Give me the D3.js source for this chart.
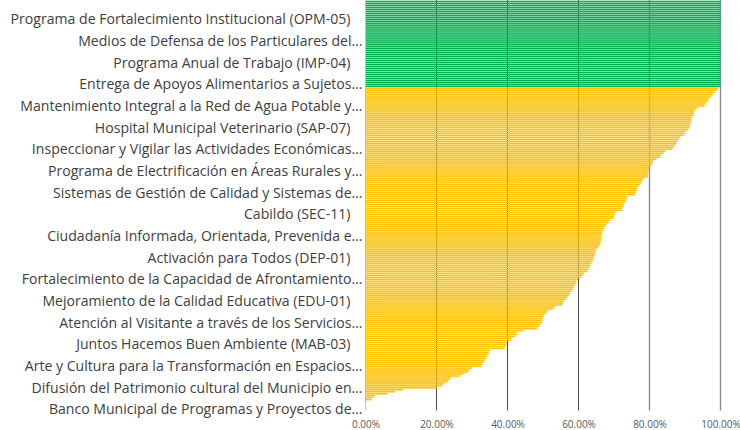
<!DOCTYPE html>
<html>
<head>
<meta charset="utf-8">
<script src="https://cdn.jsdelivr.net/npm/d3@7"></script>
<style>
  html, body { margin: 0; padding: 0; background: #ffffff; }
  svg { display: block; }
</style>
</head>
<body>
<svg id="chart" width="740" height="430"></svg>
<script>
// Completion share of each program, top bar first (0-100 %)
const values = [
  100,100,100,100,100,100,100,100,100,100,
  100,100,100,100,100,100,100,100,100,100,
  100,100,100,100,100,100,100,100,100,100,
  100,100,100,100,100,100,100,100,100,100,
  100,100,100,100,
  99.4, 99.0, 98.5, 97.9, 97.5, 97.0, 96.6, 96.3, 95.8, 95.5,
  93.4, 93.0, 92.6, 92.5, 92.2, 91.8, 91.7, 91.7, 91.6, 91.4,
  91.2, 91.0, 90.2, 90.0, 89.5, 88.6, 88.3, 87.8, 87.6, 87.2,
  86.7, 86.5, 84.4, 84.0, 83.2, 83.1, 82.0, 81.0, 80.9, 80.7,
  79.9, 79.8, 79.7, 79.7, 79.6, 79.5, 78.3, 78.0, 77.6, 77.4,
  76.8, 76.6, 76.4, 76.2, 76.0, 73.7, 73.6, 73.4, 73.1, 72.8,
  72.6, 72.3, 72.2, 70.5, 70.3, 70.1, 69.9, 68.9, 68.5, 67.9,
  67.6, 67.3, 67.0, 66.8, 66.6, 66.5, 66.5, 66.4, 66.3, 66.1,
  65.9, 65.5, 64.9, 64.8, 64.7, 64.5, 64.2, 64.1, 63.9, 63.5,
  63.3, 63.0, 62.8, 62.4, 61.6, 61.2, 60.8, 59.8, 59.5, 59.4,
  59.0, 58.6, 58.4, 57.9, 57.6, 57.3, 57.0, 56.5, 55.9, 55.6,
  55.4, 53.4, 52.8, 51.5, 51.0, 50.4, 50.2, 49.9, 49.9, 49.7,
  49.2, 48.8, 48.4, 44.5, 42.8, 42.6, 42.1, 41.2, 41.0, 39.8,
  39.7, 39.5, 39.2, 35.1, 34.9, 34.6, 34.3, 34.1, 33.6, 33.4,
  33.0, 32.7, 29.9, 29.2, 28.9, 27.5, 26.6, 24.0, 23.5, 23.1,
  22.1, 21.5, 20.1, 10.6, 8.3, 6.3, 2.7, 2.0, 1.7, 0,
  0, 0, 0, 0
];

// Category labels that are shown (every 11th category, top to bottom)
const shownLabels = [
  "Programa de Fortalecimiento Institucional (OPM-05)",
  "Medios de Defensa de los Particulares del…",
  "Programa Anual de Trabajo (IMP-04)",
  "Entrega de Apoyos Alimentarios a Sujetos…",
  "Mantenimiento Integral a la Red de Agua Potable y…",
  "Hospital Municipal Veterinario (SAP-07)",
  "Inspeccionar y Vigilar las Actividades Económicas…",
  "Programa de Electrificación en Áreas Rurales y…",
  "Sistemas de Gestión de Calidad y Sistemas de…",
  "Cabildo (SEC-11)",
  "Ciudadanía Informada, Orientada, Prevenida e…",
  "Activación para Todos (DEP-01)",
  "Fortalecimiento de la Capacidad de Afrontamiento…",
  "Mejoramiento de la Calidad Educativa (EDU-01)",
  "Atención al Visitante a través de los Servicios…",
  "Juntos Hacemos Buen Ambiente (MAB-03)",
  "Arte y Cultura para la Transformación en Espacios…",
  "Difusión del Patrimonio cultural del Municipio en…",
  "Banco Municipal de Programas y Proyectos de…"
];
const firstLabelIndex = 9;
const labelStep = 11;

const xTicks = [0, 0.2, 0.4, 0.6, 0.8, 1.0];

const svg = d3.select("#chart");
const plotLeft = 365.5, plotRight = 720.5, plotTop = 0.5, plotBottom = 410.5;
const fontFamily = "'Open Sans', 'Noto Sans', sans-serif";

const x = d3.scaleLinear().domain([0, 1]).range([plotLeft, plotRight]);
const y = d3.scaleBand().domain(d3.range(values.length)).range([plotTop, plotBottom]).paddingInner(0.22).paddingOuter(0.11);

// gridlines
svg.append("g").selectAll("line").data(xTicks.filter(d => d > 0)).join("line")
  .attr("x1", d => x(d)).attr("x2", d => x(d))
  .attr("y1", 0).attr("y2", plotBottom)
  .attr("stroke", d => d >= 0.8 ? "#8c8c8c" : "#4a4a4a")
  .attr("stroke-width", d => d >= 0.8 ? 1.4 : 1);

// bars
svg.append("g")
  .selectAll("rect").data(values).join("rect")
  .attr("x", x(0))
  .attr("y", (d, i) => y(i))
  .attr("height", y.bandwidth())
  .attr("width", d => Math.max(0, x(d / 100) - x(0)))
  .attr("fill", d => d >= 100 ? "#00B050" : "#FFC000");

// category axis line
svg.append("line")
  .attr("x1", plotLeft).attr("x2", plotLeft)
  .attr("y1", 0).attr("y2", plotBottom)
  .attr("stroke", "#bfbfbf").attr("stroke-width", 1);

// category labels
const labelG = svg.append("g")
  .attr("font-family", fontFamily)
  .attr("fill", "#404040")
  .attr("text-anchor", "end");
const labelNodes = labelG.selectAll("text").data(shownLabels).join("text")
  .attr("x", d => d.endsWith("…") ? 362.5 : 350.5)
  .attr("y", (d, k) => y(firstLabelIndex + k * labelStep) + y.bandwidth() / 2)
  .attr("dy", "0.35em")
  .attr("font-size", 13)
  .text(d => d);
// fit font size so the first label spans about 340px
const wt = labelNodes.node().getComputedTextLength();
labelNodes.attr("font-size", 13 * 340 / wt);

// value axis
const xAxis = d3.axisBottom(x).tickValues(xTicks).tickFormat(d3.format(".2%")).tickSize(0).tickPadding(10);
const axG = svg.append("g").attr("transform", `translate(0,${plotBottom})`).call(xAxis);
axG.select(".domain").remove();
axG.selectAll("text")
  .attr("font-family", fontFamily)
  .attr("font-size", 10)
  .attr("fill", "#595959");
</script>
</body>
</html>
